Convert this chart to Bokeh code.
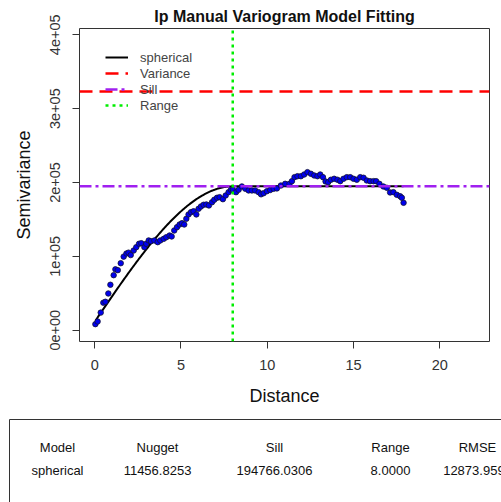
import numpy as np
from bokeh.plotting import figure
from bokeh.layouts import column
from bokeh.models import Range1d, FixedTicker, Legend, LegendItem
from bokeh.core.properties import value
from bokeh.embed import file_html
from bokeh.resources import INLINE

# Empirical semivariogram (lag distance, semivariance)
distance = [0.04, 0.17, 0.35, 0.50, 0.62, 0.79, 0.91, 1.10, 1.20, 1.34, 1.51, 1.68, 1.84, 1.96,
            2.09, 2.26, 2.41, 2.57, 2.70, 2.88, 2.99, 3.13, 3.26, 3.46, 3.65, 3.80, 4.00, 4.15,
            4.34, 4.46, 4.61, 4.77, 4.92, 5.06, 5.19, 5.31, 5.44, 5.58, 5.73, 5.89, 6.02, 6.16,
            6.31, 6.47, 6.62, 6.80, 6.93, 7.09, 7.24, 7.43, 7.59, 7.76, 7.90, 8.01, 8.19, 8.34,
            8.53, 8.73, 8.92, 9.11, 9.30, 9.50, 9.64, 9.79, 9.98, 10.17, 10.37, 10.56, 10.79,
            11.04, 11.29, 11.43, 11.58, 11.75, 11.95, 12.14, 12.33, 12.53, 12.72, 12.91, 13.07,
            13.23, 13.38, 13.53, 13.69, 13.88, 14.07, 14.23, 14.42, 14.61, 14.81, 15.00, 15.19,
            15.39, 15.58, 15.77, 15.96, 16.16, 16.31, 16.50, 16.73, 16.93, 17.12, 17.31, 17.51,
            17.70, 17.80, 17.90]
semivariance = [8200, 11800, 23800, 37200, 38500, 49700, 61500, 74500, 82400, 81300, 90700, 99600,
                103800, 105000, 101700, 107900, 112400, 117000, 117800, 112400, 117000, 121500,
                120500, 121500, 119200, 121500, 123700, 125900, 128200, 126900, 135000, 139500,
                143100, 144900, 143100, 150800, 156700, 159800, 161100, 156700, 164400, 167500,
                169800, 170200, 168900, 173300, 176600, 179300, 180100, 177400, 182400, 186900,
                190100, 190100, 186900, 190100, 194600, 191500, 189200, 189200, 189200, 186900,
                184000, 185500, 188200, 189800, 191500, 192000, 195900, 198200, 198200, 201800,
                207200, 208500, 208500, 210800, 214000, 211800, 209500, 208500, 210800, 207200,
                201400, 200400, 203700, 205000, 203700, 201800, 205000, 207200, 207200, 205000,
                203700, 207200, 206400, 202700, 201800, 201800, 201800, 198200, 194600, 192800,
                186500, 186900, 183300, 181400, 179300, 172500]

# Fitted model parameters
model_name = "spherical"
nugget = 11456.8253
sill = 194766.0306
model_range = 8.0
rmse = 12873.9590
variance = 323200

y_ticks = [0, 100000, 200000, 300000, 400000]
y_tick_labels = ["0e+00", "1e+05", "2e+05", "3e+05", "4e+05"]
x_ticks = [0, 5, 10, 15, 20]

table_headers = ["Model", "Nugget", "Sill", "Range", "RMSE"]
table_values = [model_name, f"{nugget:.4f}", f"{sill:.4f}", f"{model_range:.4f}", f"{rmse:.4f}"]

FONT = "Liberation Sans"

x_lo, x_hi = -0.88, 22.88
y_lo, y_hi = -15300, 408500

p = figure(width=501, height=410, output_backend="svg", toolbar_location=None,
           x_range=Range1d(x_lo, x_hi), y_range=Range1d(y_lo, y_hi),
           min_border_left=79, min_border_right=12, min_border_top=28, min_border_bottom=69)
p.frame_align = False
p.grid.visible = False
p.outline_line_color = "#333333"
p.outline_line_width = 1
p.background_fill_color = "white"
p.border_fill_color = "white"

p.title.text = "Ip Manual Variogram Model Fitting"
p.title.align = "center"
p.title.text_font = FONT
p.title.text_font_size = "16px"
p.title.text_font_style = "bold"
p.title.text_color = "#111111"
p.title.standoff = 7

for ax in (p.xaxis[0], p.yaxis[0]):
    ax.axis_line_color = None
    ax.major_tick_line_color = "#333333"
    ax.major_tick_out = 7
    ax.major_tick_in = 0
    ax.minor_tick_line_color = None
    ax.major_label_text_font = FONT
    ax.major_label_text_font_size = "14.5px"
    ax.major_label_text_color = "#333333"
    ax.axis_label_text_font = FONT
    ax.axis_label_text_font_size = "18px"
    ax.axis_label_text_font_style = "normal"
    ax.axis_label_text_color = "#111111"

p.xaxis.major_label_standoff = 11
p.xaxis.axis_label_standoff = 13
p.yaxis.major_label_standoff = 12
p.yaxis.axis_label_standoff = 14

p.xaxis.ticker = FixedTicker(ticks=x_ticks)
p.yaxis.ticker = FixedTicker(ticks=y_ticks)
p.yaxis.major_label_overrides = {t: s for t, s in zip(y_ticks, y_tick_labels)}
p.yaxis.major_label_orientation = "vertical"
p.xaxis.axis_label = "Distance"
p.yaxis.axis_label = "Semivariance"

# Spherical model curve from the fitted parameters
h = np.linspace(distance[0], distance[-1], 300)
r = np.minimum(h / model_range, 1.0)
gamma = nugget + (sill - nugget) * (1.5 * r - 0.5 * r ** 3)

r_model = p.line(h, gamma, line_color="black", line_width=2)
p.scatter(distance, semivariance, size=5.5, fill_color="#0000ee", line_color="#111133", line_width=0.8)
r_var = p.line([x_lo, x_hi], [variance, variance], line_color="red", line_width=2.5, line_dash="13 7")
r_sill = p.line([x_lo, x_hi], [sill, sill], line_color="#A020F0", line_width=2.5, line_dash="12 4 3 4")
r_range = p.line([model_range, model_range], [y_lo, y_hi], line_color="#00EE00", line_width=2.5, line_dash="3 4")

legend = Legend(items=[LegendItem(label="spherical", renderers=[r_model]),
                       LegendItem(label="Variance", renderers=[r_var]),
                       LegendItem(label="Sill", renderers=[r_sill]),
                       LegendItem(label="Range", renderers=[r_range])],
                location=(26, 228), padding=0, margin=0, spacing=0,
                glyph_width=23, glyph_height=16, label_height=16, label_standoff=12,
                label_text_font=FONT, label_text_font_size="13px",
                background_fill_alpha=0, border_line_color=None)
p.add_layout(legend)

# Parameter table below the chart (coordinates are pixels of this panel)
col_x = [57, 157, 274, 390, 477]
t = figure(width=501, height=92, output_backend="svg", toolbar_location=None,
           x_range=Range1d(0, 501), y_range=Range1d(92, 0),
           x_axis_type=None, y_axis_type=None, min_border=0,
           min_border_left=0, min_border_right=0, min_border_top=0, min_border_bottom=0)
t.frame_align = False
t.grid.visible = False
t.outline_line_color = None
t.line([9, 9, 520], [130, 9, 9], line_color="#333333", line_width=1)
t.text(col_x, [37] * 5, text=table_headers, text_align="center", text_baseline="middle",
       text_font=value(FONT), text_font_size="13px", text_color="#111111")
t.text(col_x, [60] * 5, text=table_values, text_align="center", text_baseline="middle",
       text_font=value(FONT), text_font_size="13px", text_color="#111111")

layout = column(p, t, spacing=0)
open("out.html", "w").write(file_html(layout, INLINE))
